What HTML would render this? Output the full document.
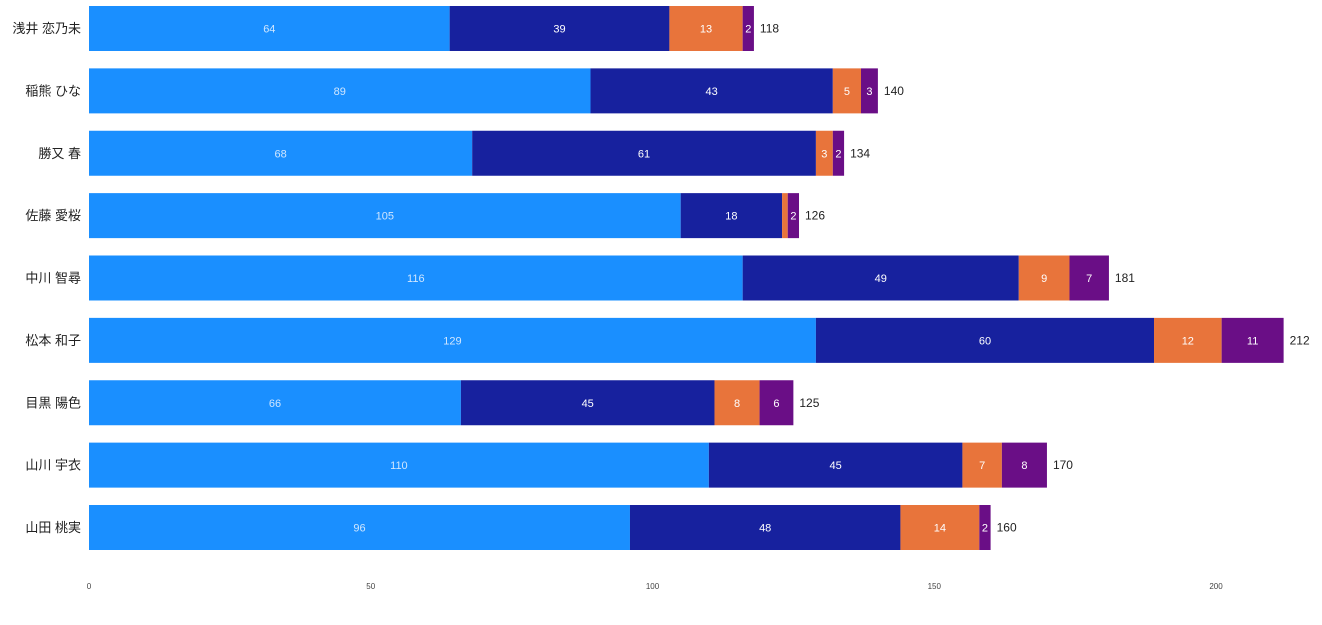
<!DOCTYPE html>
<html><head><meta charset="utf-8"><style>
html,body{margin:0;padding:0;background:#fff;width:1322px;height:625px;overflow:hidden}
svg{display:block;font-family:"Liberation Sans","Noto Sans CJK JP",sans-serif}
</style></head><body>
<svg id="chart" width="1322" height="625" viewBox="0 0 1322 625"></svg>
<script>
const categories = ["浅井 恋乃未","稲熊 ひな","勝又 春","佐藤 愛桜","中川 智尋","松本 和子","目黒 陽色","山川 宇衣","山田 桃実"];
const series1 = [64,89,68,105,116,129,66,110,96];
const series2 = [39,43,61,18,49,60,45,45,48];
const series3 = [13,5,3,1,9,12,8,7,14];
const series4 = [2,3,2,2,7,11,6,8,2];
const tickValues = [0,50,100,150,200];
const colors = ["#1a8fff","#17219e","#e8743b","#6a0e86"];
const seriesList = [series1,series2,series3,series4];

const svg = document.getElementById('chart');
const NS = 'http://www.w3.org/2000/svg';
const x0 = 89, pxPer = (1216 - 89) / 200;
const xScale = v => x0 + v * pxPer;
const top0 = 6, pitch = 62.375, barH = 45;
const yScale = i => top0 + i * pitch;

function mk(tag, attrs) {
  const e = document.createElementNS(NS, tag);
  for (const k in attrs) e.setAttribute(k, attrs[k]);
  svg.appendChild(e);
  return e;
}

categories.forEach((c, i) => {
  const y = yScale(i);
  const lab = mk('text', {x: 81, y: y + barH / 2 + 4.5, 'text-anchor': 'end', 'font-size': 13, fill: '#222'});
  lab.textContent = c;
  
  
  let acc = 0;
  seriesList.forEach((s, k) => {
    const v = s[i];
    const w = xScale(acc + v) - xScale(acc);
    const r = mk('rect', {x: xScale(acc), y: y, width: w, height: barH, fill: colors[k]});
    
    
    if (w >= 8) {
      const t = mk('text', {x: xScale(acc) + w / 2, y: y + barH / 2 + 4, 'text-anchor': 'middle', 'font-size': 11, fill: k === 0 ? '#cfe6ff' : '#fff'});
      t.textContent = v;
      
      
    }
    acc += v;
  });
  const tot = mk('text', {x: xScale(acc) + 6, y: y + barH / 2 + 4, 'font-size': 12, fill: '#222'});
  tot.textContent = acc;
  
  
});

tickValues.forEach(v => {
  const t = mk('text', {x: xScale(v), y: 589, 'text-anchor': 'middle', 'font-size': 8, fill: '#444'});
  t.textContent = v;
  
  
});
</script>
</body></html>
